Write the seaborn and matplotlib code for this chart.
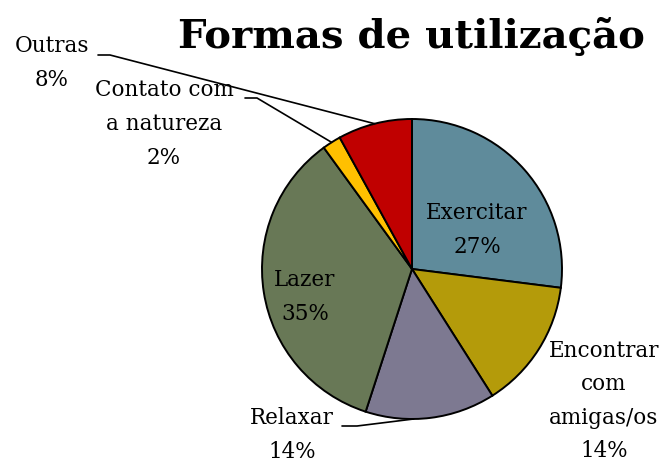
import numpy as np
import matplotlib
matplotlib.use("Agg")
import matplotlib.pyplot as plt
import seaborn as sns

categories = ["Exercitar", "Encontrar\ncom\namigas/os", "Relaxar", "Lazer", "Contato com\na natureza", "Outras"]
values = [27, 14, 14, 35, 2, 8]
colors = ["#5F8B9B", "#B49B0A", "#7D7991", "#687856", "#FFC000", "#C00000"]
title = "Formas de utilização"

sns.set_theme(style="white")
plt.rcParams['font.family'] = ['DejaVu Serif']

W, H = 668, 462
fig = plt.figure(figsize=(W/100, H/100), dpi=100)
ax = fig.add_axes([0, 0, 1, 1])
cx, cy, R = 412, 269, 150

wedges, _ = ax.pie(values, colors=colors, startangle=90, counterclock=False,
                   radius=1.0, center=(0, 0),
                   wedgeprops=dict(edgecolor='black', linewidth=1.4))
ax.set_xlim(-cx/R, (W-cx)/R)
ax.set_ylim(-(H-cy)/R, cy/R)
ax.set_aspect('equal')
ax.axis('off')

def px(x, y):
    return ((x-cx)/R, (cy-y)/R)

fs = 15.5
labels = [f"{c}\n{v}%" for c, v in zip(categories, values)]
pos = [(477, 230), (604, 401), (292, 435), (305, 297), (164, 124), (52, 63)]
for lab, p in zip(labels, pos):
    ax.text(*px(*p), lab, ha='center', va='center', fontsize=fs, color='black',
            linespacing=1.68)

def edge_point(w, frac=0.5):
    ang = np.deg2rad(w.theta1 + (w.theta2 - w.theta1)*frac)
    return np.cos(ang), np.sin(ang)

# Outras
ex, ey = edge_point(wedges[5], 0.5)
a = px(98, 55); b = px(110, 55)
ax.plot([a[0], b[0], ex], [a[1], b[1], ey], color='black', lw=1.2)
# Contato
ex, ey = edge_point(wedges[4], 0.5)
a = px(245, 98); b = px(257, 98)
ax.plot([a[0], b[0], ex], [a[1], b[1], ey], color='black', lw=1.2)
# Relaxar
ex, ey = edge_point(wedges[2], 0.37)
a = px(342, 426); b = px(357, 426)
ax.plot([a[0], b[0], ex], [a[1], b[1], ey], color='black', lw=1.2)

ax.text(*px(411, 48), title, ha='center', va='baseline', fontsize=29,
        fontweight='bold', color='black')

fig.savefig("out.png", dpi=100)
